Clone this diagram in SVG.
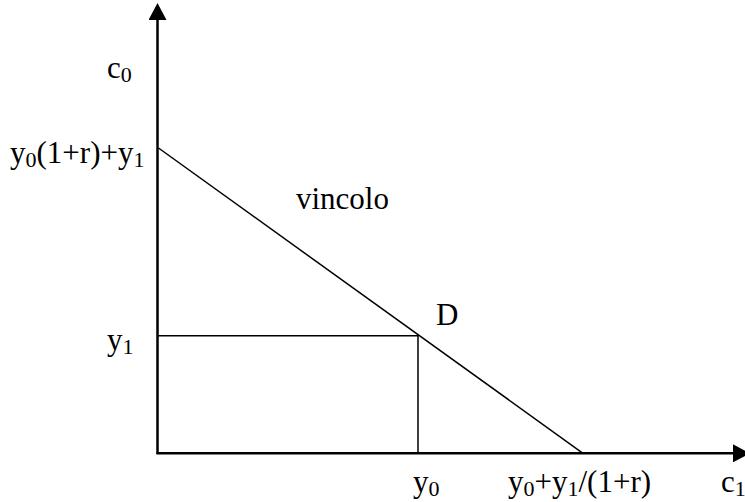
<svg xmlns="http://www.w3.org/2000/svg" width="745" height="502" viewBox="0 0 745 502">
<style>
text{font-family:"Liberation Serif","Times New Roman",serif;font-size:31px;fill:#000}
.s{font-size:22px}
.axis{stroke:#000;stroke-width:2.5;fill:none}
.thin{stroke:#000;stroke-width:1.5;fill:none}
</style>
<defs>
<marker id="ah" markerUnits="userSpaceOnUse" markerWidth="18" markerHeight="18" refX="0" refY="9" orient="auto" viewBox="0 0 17 18">
<path d="M0,0 L17,9 L0,18 Z" fill="#000"/>
</marker>
</defs>
<g id="connectors">
<line class="axis" x1="157.5" y1="454" x2="157.5" y2="20" marker-end="url(#ah)"/>
<line class="axis" x1="156.5" y1="453.3" x2="733" y2="453.3" marker-end="url(#ah)"/>
<line id="vincolo-line" class="thin" x1="158.5" y1="148" x2="583" y2="453.3"/>
<polyline class="thin" points="157.5,335.7 418,335.7 418,453.3"/>
</g>
<g id="label-c0"><text x="107" y="78">c<tspan class="s" dy="4">0</tspan></text></g>
<g id="label-intercept-y"><text x="10" y="163">y<tspan class="s" dy="4">0</tspan><tspan dy="-4">(1+r)+y</tspan><tspan class="s" dy="4">1</tspan></text></g>
<g id="label-vincolo"><text x="296" y="209">vincolo</text></g>
<g id="label-D"><text x="436" y="325">D</text></g>
<g id="label-y1"><text x="107" y="350">y<tspan class="s" dy="4">1</tspan></text></g>
<g id="label-y0"><text x="413" y="492">y<tspan class="s" dy="4">0</tspan></text></g>
<g id="label-intercept-x"><text x="508" y="492">y<tspan class="s" dy="4">0</tspan><tspan dy="-4">+y</tspan><tspan class="s" dy="4">1</tspan><tspan dy="-4">/(1+r)</tspan></text></g>
<g id="label-c1"><text x="721" y="492">c<tspan class="s" dy="4">1</tspan></text></g>
</svg>
